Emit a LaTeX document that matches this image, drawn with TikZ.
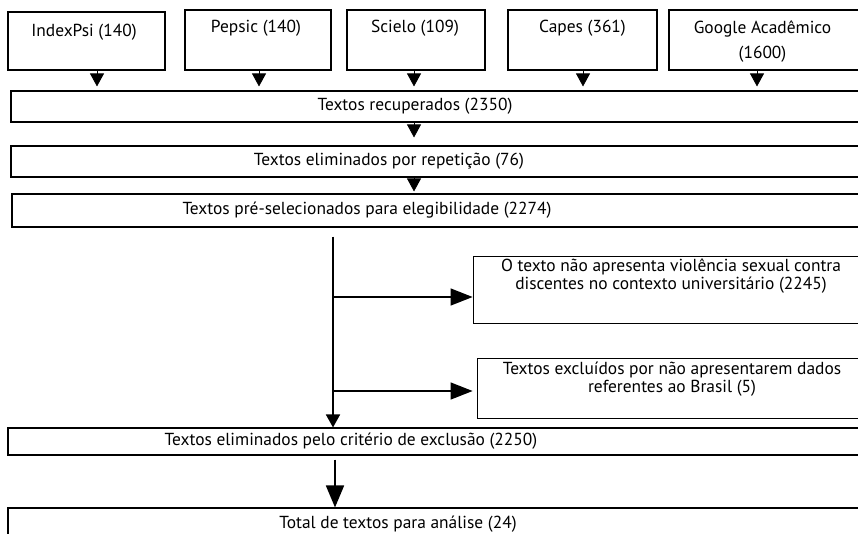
\documentclass[tikz,border=0pt]{standalone}
\usepackage{fontspec}
\setmainfont{PT Sans}
\usepackage{tikz}
\usetikzlibrary{arrows.meta}
\tikzstyle{source} = [rectangle, draw=black, line width=1.2pt, minimum height=60pt, inner sep=0pt]
\tikzstyle{stage} = [rectangle, draw=black, line width=1.1pt, inner sep=0pt]
\tikzstyle{reason} = [rectangle, draw=black, line width=0.8pt, inner sep=0pt]
\tikzstyle{arrow} = [line width=0.8pt, ->, >={Triangle[length=13pt,width=14pt]}]
\tikzstyle{trunk} = [line width=1.8pt, ->, >={Triangle[length=13pt,width=14pt]}]
\tikzstyle{branch} = [line width=1.3pt, ->, >={Triangle[length=22pt,width=17pt]}]
\tikzstyle{bigarrow} = [line width=1.8pt, ->, >={Triangle[length=22pt,width=18pt]}]

\begin{document}
\begin{tikzpicture}[x=1pt, y=-1pt, font=\fontsize{17.4pt}{18pt}\selectfont]
\useasboundingbox (0,0) rectangle (858,533);

% Nodes
\node (indexpsi) [source, minimum width=157pt, minimum height=58pt, label={[xshift=-2.5pt, yshift=9pt]center:IndexPsi (140)}] at (86.5,41) {};
\node (pepsic) [source, minimum width=146pt, label={[xshift=-2pt, yshift=12pt]center:Pepsic (140)}] at (258,40) {};
\node (scielo) [source, minimum width=138pt, label={[xshift=-1pt, yshift=12pt]center:Scielo (109)}] at (416,40) {};
\node (capes) [source, minimum width=149pt, label={[yshift=12pt]center:Capes (361)}] at (582.5,40) {};
\node (google) [source, minimum width=191pt, label={[xshift=-2pt, yshift=-1.5pt, align=center]center:Google Acadêmico\\[7pt](1600)}] at (764.5,40) {};

\node (recuperados) [stage, minimum width=849pt, minimum height=31pt, label={[xshift=-20.5pt]center:Textos recuperados (2350)}] at (435.5,106.5) {};
\node (repeticao) [stage, minimum width=849pt, minimum height=31pt, label={[xshift=-46.5pt]center:Textos eliminados por repetição (76)}] at (435.5,161.5) {};
\node (preselecao) [stage, minimum width=848pt, minimum height=33pt, label={[xshift=-69pt]center:Textos pré-selecionados para elegibilidade (2274)}] at (436,210.5) {};

\node (naoviolencia) [reason, minimum width=396pt, minimum height=67pt, label={[yshift=13.5pt, align=center]center:O texto não apresenta violência sexual contra\\discentes no contexto universitário (2245)}] at (671,289.5) {};
\node (brasil) [reason, minimum width=388pt, minimum height=60pt, label={[xshift=1pt, yshift=9pt, align=center]center:Textos excluídos por não apresentarem dados\\referentes ao Brasil (5)}] at (671,388) {};

\node (criterio) [stage, minimum width=852pt, minimum height=27pt, label={[xshift=-83pt]center:Textos eliminados pelo critério de exclusão (2250)}] at (434,441.5) {};
\node (total) [stage, minimum width=852pt, minimum height=38pt, label={[xshift=-36pt, yshift=3pt]center:Total de textos para análise (24)}] at (434,527) {};

\coordinate (b1) at (333,297);
\coordinate (b2) at (333,391);

% Arrows
\draw [arrow, shorten >=4pt] ([xshift=10.5pt]indexpsi.south) -- ([xshift=10.5pt]indexpsi.south |- recuperados.north);
\draw [arrow, shorten >=4pt] ([xshift=1pt]pepsic.south) -- ([xshift=1pt]pepsic.south |- recuperados.north);
\draw [arrow, shorten >=4pt] ([xshift=-2pt]scielo.south) -- ([xshift=-2pt]scielo.south |- recuperados.north);
\draw [arrow, shorten >=4pt] ([xshift=0.5pt]capes.south) -- ([xshift=0.5pt]capes.south |- recuperados.north);
\draw [arrow, shorten >=4pt] ([xshift=-7.5pt]google.south) -- ([xshift=-7.5pt]google.south |- recuperados.north);
\draw [arrow, shorten >=8pt] ([xshift=-21.5pt]recuperados.south) -- ([xshift=-21.5pt]recuperados.south |- repeticao.north);
\draw [arrow, shorten >=2pt] ([xshift=-21.5pt]repeticao.south) -- ([xshift=-21.5pt]repeticao.south |- preselecao.north);
\draw [trunk, shorten <=9pt] ([xshift=-103pt]preselecao.south) -- ([xshift=-103pt]preselecao.south |- criterio.north);
\draw [branch] (b1) -- (b1 -| naoviolencia.west);
\draw [branch, shorten >=4pt] (b2) -- (b2 -| brasil.west);
\draw [bigarrow, shorten <=4pt] ([xshift=-99pt]criterio.south) -- ([xshift=-99pt]criterio.south |- total.north);

\end{tikzpicture}
\end{document}
